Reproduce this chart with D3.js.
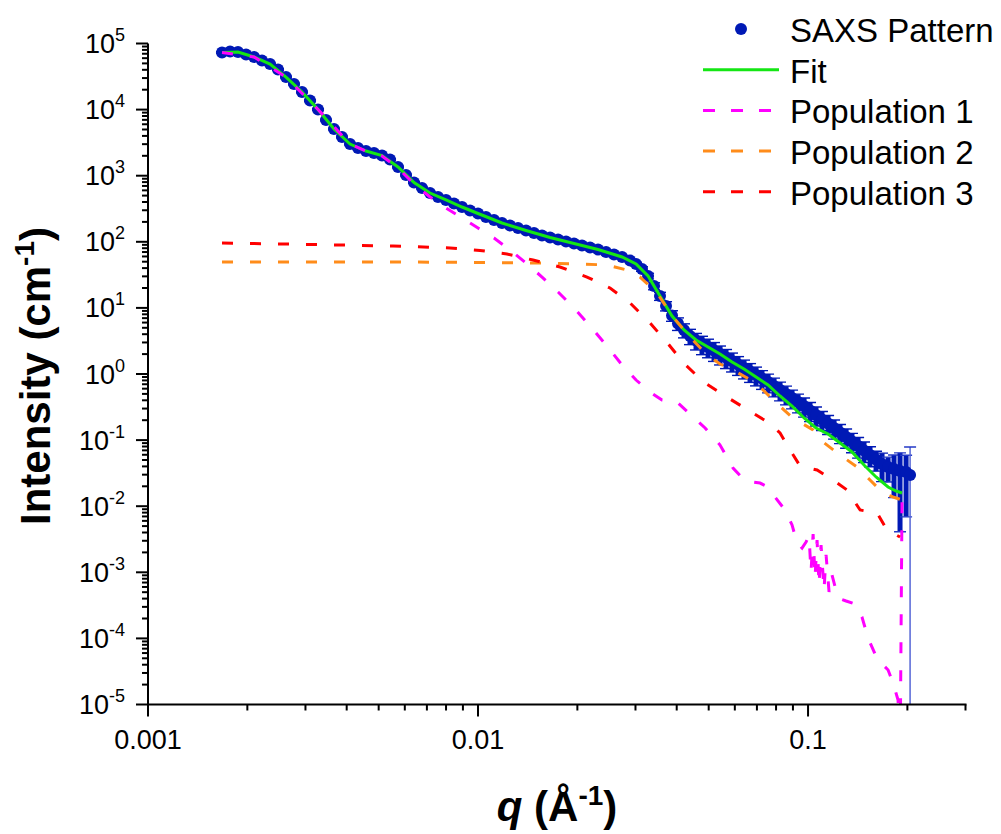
<!DOCTYPE html>
<html>
<head>
<meta charset="utf-8">
<script src="https://cdn.jsdelivr.net/npm/d3@7"></script>
<style>
  body { margin: 0; background: #fff; }
  svg { font-family: "Liberation Sans", Arial, sans-serif; }
</style>
</head>
<body>
<svg width="1001" height="834"></svg>
<script>
// SAXS 数据 (q in 1/Å, I in 1/cm)
const saxsQ = [0.001676, 0.001773, 0.001874, 0.001982, 0.002096, 0.002215, 0.002343, 0.002477, 0.002619, 0.002770,
  0.002929, 0.003097, 0.003275, 0.003463, 0.003661, 0.003871, 0.004094, 0.004329, 0.004577, 0.004840,
  0.005118, 0.005412, 0.005722, 0.006051, 0.006398, 0.006766, 0.007154, 0.007565, 0.007999, 0.008458,
  0.008944, 0.009458, 0.01, 0.01057, 0.01118, 0.01182, 0.01250, 0.01322, 0.01398, 0.01478,
  0.01563, 0.01653, 0.01748, 0.01848, 0.01954, 0.02066, 0.02185, 0.02310, 0.02443, 0.02583,
  0.02732, 0.02889, 0.03012, 0.03140, 0.03275, 0.03415, 0.03560, 0.03713, 0.03871, 0.04036,
  0.04209, 0.04389, 0.04577, 0.04772, 0.04977, 0.05189, 0.05412, 0.05643, 0.05884, 0.06136,
  0.06398, 0.06672, 0.06957, 0.07254, 0.07565, 0.07888, 0.08225, 0.08577, 0.08944, 0.09326,
  0.09725, 0.1014, 0.1057, 0.1102, 0.1150, 0.1199, 0.1250, 0.1304, 0.1359, 0.1418,
  0.1478, 0.1541, 0.1607, 0.1676, 0.1748, 0.1822, 0.1900, 0.1982, 0.2038];
const saxsI = [73100, 75700, 74400, 68200, 62500, 55300, 48900, 40400, 31100, 24400,
  18500, 13700, 10030, 6960, 5090, 3850, 3017, 2625, 2364, 2205,
  2021, 1759, 1354, 1025, 789, 651, 547, 476, 429, 380,
  336, 297, 268, 237, 214, 192.5, 176.5, 161.7, 148.3, 135.9,
  124.5, 116.2, 108.3, 101.0, 94.3, 87.9, 82.0, 76.4, 70.1, 64.3,
  58.9, 52.1, 46.1, 38.8, 30.4, 21.4, 15.1, 10.7, 7.67, 5.81,
  4.63, 3.76, 3.21, 2.84, 2.56, 2.27, 2.01, 1.777, 1.573, 1.392,
  1.232, 1.091, 0.966, 0.855, 0.757, 0.658, 0.573, 0.498, 0.434, 0.377,
  0.328, 0.280, 0.240, 0.205, 0.1783, 0.1524, 0.1303, 0.1114, 0.0953, 0.0814,
  0.0696, 0.0595, 0.0509, 0.0435, 0.0392, 0.0365, 0.0341, 0.0329, 0.0296];
const saxsErr = [2200, 2300, 2200, 2000, 1900, 1700, 1500, 1200, 930, 730,
  560, 410, 300, 210, 150, 120, 90, 79, 71, 66,
  61, 53, 41, 31, 24, 20, 16, 14, 13, 11,
  10, 9, 8, 7.1, 6.4, 5.8, 5.3, 4.9, 4.4, 4.1,
  3.7, 3.5, 3.2, 3.0, 2.8, 2.6, 2.5, 2.3, 2.1, 1.9,
  1.8, 1.6, 2.8, 3.1, 3.0, 2.6, 2.1, 1.7, 1.4, 1.25,
  1.11, 0.98, 0.90, 0.88, 0.80, 0.72, 0.64, 0.57, 0.50, 0.44,
  0.39, 0.345, 0.305, 0.270, 0.239, 0.208, 0.181, 0.157, 0.137, 0.119,
  0.105, 0.090, 0.077, 0.066, 0.057, 0.049, 0.042, 0.036, 0.031, 0.028,
  0.024, 0.020, 0.017, 0.020, 0.016, 0.023, 0.030, 0.026, 0.049];

// 拟合曲线
const fitQ = [0.001676, 0.001874, 0.002096, 0.002343, 0.002619, 0.002929, 0.003275, 0.003661, 0.004094, 0.004577,
  0.005118, 0.005722, 0.006398, 0.007154, 0.007999, 0.008944, 0.01, 0.01182, 0.01398, 0.01653,
  0.01954, 0.02310, 0.02732, 0.03012, 0.03275, 0.03560, 0.03871, 0.04209, 0.04577, 0.04977,
  0.05412, 0.05884, 0.06398, 0.06957, 0.07565, 0.08225, 0.08944, 0.09725, 0.1057, 0.1150,
  0.1250, 0.1359, 0.1478, 0.1607, 0.1748, 0.1848, 0.1927];
const fitI = [73100, 74400, 62500, 48900, 31100, 18500, 10030, 5090, 3017, 2364,
  2021, 1354, 789, 547, 429, 336, 268, 192.5, 148.3, 116.2,
  94.3, 76.4, 58.9, 46.1, 30.4, 15.1, 7.54, 4.63, 3.27, 2.56,
  2.01, 1.519, 1.190, 0.901, 0.682, 0.465, 0.328, 0.216, 0.1524, 0.1237,
  0.0904, 0.0661, 0.0420, 0.0277, 0.01952, 0.01698, 0.01584];

// Population 1
const pop1Q = [0.001676, 0.002096, 0.002619, 0.003275, 0.004094, 0.004577, 0.005118, 0.005722, 0.006398, 0.007154,
  0.007999, 0.008944, 0.01, 0.01118, 0.01250, 0.01398, 0.01563, 0.01748, 0.01954, 0.02185,
  0.02443, 0.02732, 0.03012, 0.03320, 0.03611, 0.04009, 0.04389, 0.04876, 0.05412, 0.05925,
  0.06446, 0.07153, 0.07565, 0.07943, 0.08517, 0.08944, 0.09261, 0.09590, 0.09861, 0.1007,
  0.1021, 0.1036, 0.1050, 0.1065, 0.1080, 0.1095, 0.1118, 0.1134, 0.1158, 0.1182,
  0.1233, 0.1304, 0.1388, 0.1457, 0.1520, 0.1596, 0.1676, 0.1748, 0.1810, 0.1874,
  0.1900, 0.1927];
const pop1I = [73100, 62500, 31100, 10030, 3017, 2364, 1986, 1308, 749, 476,
  324.6, 229, 161.7, 114.2, 75.1, 47.8, 29.3, 17.4, 9.97, 5.32,
  2.75, 1.368, 0.811, 0.534, 0.404, 0.377, 0.248, 0.1524, 0.0843, 0.0378,
  0.0240, 0.0224, 0.01952, 0.01377, 0.00876, 0.00520, 0.00278, 0.00233, 0.00287, 0.00354,
  0.00101, 0.00380, 0.00082, 0.00308, 0.000643, 0.00259, 0.000540, 0.00184, 0.000504, 0.000910,
  0.000409, 0.000368, 0.000331, 0.000211, 0.000101, 0.0000581, 0.0000410, 0.0000333, 0.0000211, 0.0000117,
  0.000001, 0.01377];

// Population 2
const pop2Q = [0.001676, 0.002888, 0.005802, 0.01014, 0.01541, 0.02038, 0.02460, 0.02829, 0.03097, 0.03486,
  0.03897, 0.04389, 0.04942, 0.05412, 0.05925, 0.06957, 0.0800, 0.09006, 0.1036, 0.1110,
  0.1250, 0.1408, 0.1541, 0.1688, 0.1810, 0.1927];
const pop2I = [49.5, 49.5, 49.5, 48.6, 47.8, 46.1, 44.6, 37.4, 29.3, 16.8,
  7.29, 3.63, 1.938, 1.417, 1.149, 0.731, 0.364, 0.216, 0.1422, 0.0936,
  0.0595, 0.0392, 0.0249, 0.01584, 0.01377, 0.01241];

// Population 3
const pop3Q = [0.001676, 0.002565, 0.003818, 0.005526, 0.008226, 0.01014, 0.01224, 0.01468, 0.01772, 0.02139,
  0.02512, 0.02889, 0.03320, 0.03752, 0.04195, 0.04822, 0.05545, 0.06353, 0.07618, 0.08225,
  0.08822, 0.09458, 0.1065, 0.1191, 0.1313, 0.1438, 0.1619, 0.1735, 0.1900];
const pop3I = [95.9, 92.6, 89.4, 86.4, 80.6, 73.9, 65.4, 53.0, 41.6, 29.3,
  20.0, 11.9, 5.91, 2.94, 1.467, 0.757, 0.481, 0.317, 0.1815, 0.1281,
  0.0708, 0.0406, 0.0353, 0.0249, 0.01758, 0.00876, 0.00789, 0.00436, 0.00342];

// 刻度
const xMajor = [0.001, 0.01, 0.1];
const xMinor = [0.002, 0.003, 0.004, 0.005, 0.006, 0.007, 0.008, 0.009,
  0.02, 0.03, 0.04, 0.05, 0.06, 0.07, 0.08, 0.09, 0.2, 0.3];
const yExponents = [-5, -4, -3, -2, -1, 0, 1, 2, 3, 4, 5];

const legendItems = [
  { label: "SAXS Pattern", color: "#0019b5", type: "dot" },
  { label: "Fit", color: "#14e614", type: "solid" },
  { label: "Population 1", color: "#ff00ff", type: "dash" },
  { label: "Population 2", color: "#ff8c1a", type: "dash" },
  { label: "Population 3", color: "#ff0000", type: "dash" },
];

const svg = d3.select("svg");
const plotLeft = 148, plotRight = 965.5, plotTop = 43.5, plotBottom = 704.5;
const blue = "#0019b5";

const x = d3.scaleLog().domain([0.001, 0.3]).range([plotLeft, plotRight]);
const y = d3.scaleLog().domain([1e-5, 1e5]).range([plotBottom, plotTop]);

svg.append("clipPath").attr("id", "plot")
  .append("rect")
  .attr("x", plotLeft).attr("y", plotTop)
  .attr("width", plotRight - plotLeft + 2).attr("height", plotBottom - plotTop);

const plot = svg.append("g").attr("clip-path", "url(#plot)");

// 误差棒：密集处的竖线连成实心带，末端的长误差棒画细线
const saxs = saxsQ.map((q, i) => ({ q, I: saxsI[i], e: saxsErr[i] }));
const bars = plot.append("g");
saxs.forEach((d, i) => {
  const cx = x(d.q);
  const yHi = y(d.I + d.e);
  const lo = d.I - d.e;
  const reachesAxis = lo <= 1e-5;
  const tail = i >= saxs.length - 5;
  const yLo = reachesAxis ? plotBottom + 5 : y(lo);
  bars.append("line")
    .attr("x1", cx).attr("x2", cx).attr("y1", yHi).attr("y2", yLo)
    .attr("stroke", reachesAxis ? "#5566d6" : blue)
    .attr("stroke-width", reachesAxis ? 1.5 : 5);
  const caps = reachesAxis ? [yHi] : [yHi, yLo];
  caps.forEach((cy) => {
    bars.append("line")
      .attr("x1", cx - 6).attr("x2", cx + 6).attr("y1", cy).attr("y2", cy)
      .attr("stroke", tail ? "#2339c6" : blue)
      .attr("stroke-width", 1.4);
  });
});

// 数据点
plot.append("g")
  .selectAll("circle")
  .data(saxs)
  .enter()
  .append("circle")
  .attr("cx", (d) => x(d.q))
  .attr("cy", (d) => y(d.I))
  .attr("r", 6)
  .attr("fill", blue);

const line = d3.line()
  .x((d) => x(d[0]))
  .y((d) => y(d[1]));

const curves = [
  { q: fitQ, I: fitI, color: "#14e614", dash: null },
  { q: pop1Q, I: pop1I, color: "#ff00ff", dash: "11,17" },
  { q: pop2Q, I: pop2I, color: "#ff8c1a", dash: "11,17" },
  { q: pop3Q, I: pop3I, color: "#ff0000", dash: "11,17" },
];

curves.forEach((c) => {
  plot.append("path")
    .datum(d3.zip(c.q, c.I))
    .attr("d", line)
    .attr("fill", "none")
    .attr("stroke", c.color)
    .attr("stroke-width", 3)
    .attr("stroke-dasharray", c.dash);
});

// 坐标轴
const axisG = svg.append("g").attr("stroke", "#000").attr("stroke-width", 2);
axisG.append("line").attr("x1", plotLeft).attr("x2", plotLeft).attr("y1", plotTop).attr("y2", plotBottom + 1);
axisG.append("line").attr("x1", plotLeft - 1).attr("x2", plotRight + 1).attr("y1", plotBottom).attr("y2", plotBottom);

xMajor.forEach((v) => {
  axisG.append("line").attr("x1", x(v)).attr("x2", x(v)).attr("y1", plotBottom).attr("y2", plotBottom + 12);
});
xMinor.forEach((v) => {
  axisG.append("line").attr("x1", x(v)).attr("x2", x(v)).attr("y1", plotBottom).attr("y2", plotBottom + 6);
});

yExponents.forEach((e) => {
  const v = Math.pow(10, e);
  axisG.append("line").attr("x1", plotLeft - 12).attr("x2", plotLeft).attr("y1", y(v)).attr("y2", y(v));
  if (e < 5) {
    for (let k = 2; k <= 9; k++) {
      const yy = y(k * v);
      axisG.append("line").attr("x1", plotLeft - 6).attr("x2", plotLeft).attr("y1", yy).attr("y2", yy);
    }
  }
});

// 刻度标签
svg.append("g")
  .selectAll("text")
  .data(xMajor)
  .enter()
  .append("text")
  .attr("x", (d) => x(d))
  .attr("y", 749)
  .attr("text-anchor", "middle")
  .attr("font-size", 27)
  .text((d) => String(d));

const yLabels = svg.append("g")
  .selectAll("text")
  .data(yExponents)
  .enter()
  .append("text")
  .attr("x", 125)
  .attr("y", (d) => y(Math.pow(10, d)) + 9.5)
  .attr("text-anchor", "end")
  .attr("font-size", 27);
yLabels.append("tspan").text("10");
yLabels.append("tspan").attr("font-size", 18).attr("dy", -12).text((d) => String(d));

// 轴标题
const yTitle = svg.append("text")
  .attr("transform", "translate(50,376) rotate(-90)")
  .attr("text-anchor", "middle")
  .attr("font-size", 42)
  .attr("font-weight", "bold");
yTitle.append("tspan").text("Intensity (cm");
yTitle.append("tspan").attr("font-size", 28).attr("dy", -16).text("-1");
yTitle.append("tspan").attr("dy", 16).text(")");

const xTitle = svg.append("text")
  .attr("x", 557)
  .attr("y", 821)
  .attr("text-anchor", "middle")
  .attr("font-size", 42)
  .attr("font-weight", "bold");
xTitle.append("tspan").attr("font-style", "italic").text("q");
xTitle.append("tspan").text(" (Å");
xTitle.append("tspan").attr("font-size", 28).attr("dy", -16).text("-1");
xTitle.append("tspan").attr("dy", 16).text(")");

// 图例
const legend = svg.append("g");
legendItems.forEach((item, i) => {
  const cy = 29 + i * 40.7;
  if (item.type === "dot") {
    legend.append("circle").attr("cx", 741).attr("cy", cy).attr("r", 6).attr("fill", item.color);
  } else {
    legend.append("line")
      .attr("x1", 703).attr("x2", 779)
      .attr("y1", cy).attr("y2", cy)
      .attr("stroke", item.color)
      .attr("stroke-width", 3)
      .attr("stroke-dasharray", item.type === "dash" ? "12,16" : null);
  }
  legend.append("text")
    .attr("x", 790)
    .attr("y", cy + 13)
    .attr("font-size", 33)
    .text(item.label);
});
</script>
</body>
</html>
